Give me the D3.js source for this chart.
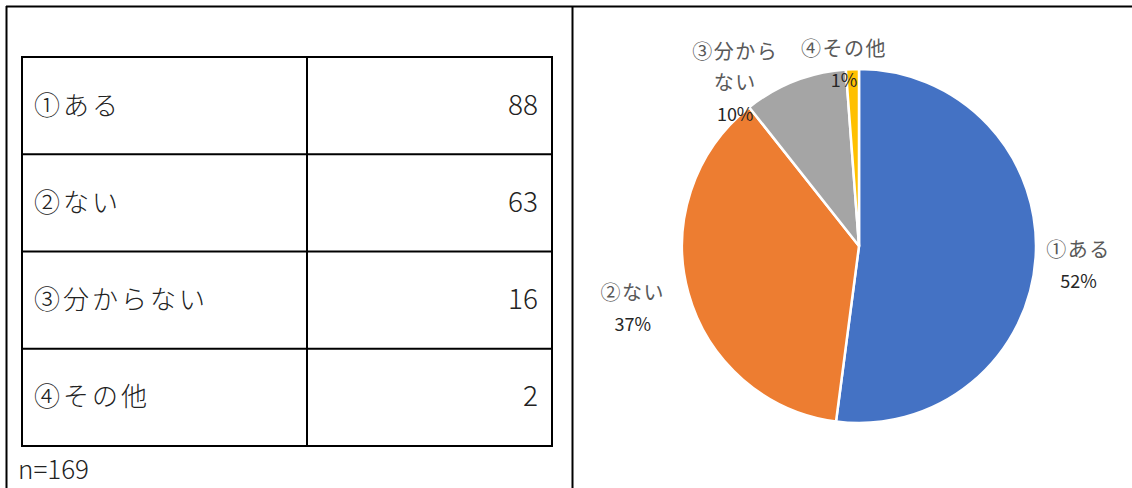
<!DOCTYPE html>
<html>
<head>
    <meta charset="utf-8">
    <title>回答の集計</title>
    <script src="https://d3js.org/d3.v7.min.js"></script>
    <style>
        body { margin: 0; background: #fff; }
        svg { display: block; }
    </style>
</head>
<body>
    <div id="chart"></div>
    <script>

        // data
        var categories = ["①ある", "②ない", "③分からない", "④その他"];
        var counts = [88, 63, 16, 2];
        var pieNames = [["①ある"], ["②ない"], ["③分から", "ない"], ["④その他"]];
        var pieLabels = ["52%", "37%", "10%", "1%"];
        var nLabel = "n=169";
        var colors = ["#4472C4", "#ED7D31", "#A5A5A5", "#FFC000"];

        var width = 1132, height = 488;
        var jp = "'Noto Sans CJK JP', 'Noto Sans', sans-serif";

        var svg = d3.select("#chart")
                    .append("svg")
                    .attr("width", width)
                    .attr("height", height);

        // outer frame: top, left and middle divider
        svg.append("line").attr("x1", 6).attr("x2", 1132).attr("y1", 6.5).attr("y2", 6.5)
            .attr("stroke", "#000").attr("stroke-width", 2);
        svg.append("line").attr("x1", 6.5).attr("x2", 6.5).attr("y1", 6).attr("y2", height)
            .attr("stroke", "#000").attr("stroke-width", 2);
        svg.append("line").attr("x1", 572.5).attr("x2", 572.5).attr("y1", 6).attr("y2", height)
            .attr("stroke", "#000").attr("stroke-width", 2);

        // ---- table ----
        var table = {left: 22, right: 552, top: 57, bottom: 446, mid: 307};
        var rowY = d3.scaleBand()
            .domain(categories)
            .range([table.top, table.bottom]);

        var tg = svg.append("g");
        tg.append("rect")
            .attr("x", table.left).attr("y", table.top)
            .attr("width", table.right - table.left)
            .attr("height", table.bottom - table.top)
            .attr("fill", "none").attr("stroke", "#000").attr("stroke-width", 2);
        tg.append("line")
            .attr("x1", table.mid).attr("x2", table.mid)
            .attr("y1", table.top).attr("y2", table.bottom)
            .attr("stroke", "#000").attr("stroke-width", 2);
        tg.selectAll(".rowline")
            .data(categories.slice(1))
            .join("line")
            .attr("x1", table.left).attr("x2", table.right)
            .attr("y1", function(d) { return rowY(d); })
            .attr("y2", function(d) { return rowY(d); })
            .attr("stroke", "#000").attr("stroke-width", 2);

        tg.selectAll(".cat")
            .data(categories)
            .join("text")
            .attr("x", table.left + 12)
            .attr("y", function(d) { return rowY(d) + rowY.bandwidth() / 2 + 9; })
            .style("font-family", jp)
            .style("font-size", "26px")
            .style("font-weight", 300)
            .style("letter-spacing", "3px")
            .attr("fill", "#222")
            .text(function(d) { return d; });

        tg.selectAll(".num")
            .data(counts)
            .join("text")
            .attr("x", table.right - 14)
            .attr("y", function(d, i) { return rowY(categories[i]) + rowY.bandwidth() / 2 + 9; })
            .attr("text-anchor", "end")
            .style("font-family", jp)
            .style("font-size", "28px")
            .style("font-weight", 300)
            .attr("fill", "#222")
            .text(function(d) { return d; });

        svg.append("text")
            .attr("x", 18)
            .attr("y", 479)
            .style("font-family", jp)
            .style("font-size", "26px")
            .style("font-weight", 300)
            .attr("fill", "#222")
            .text(nLabel);

        // ---- pie ----
        var cx = 859, cy = 246, radius = 177;
        var pie = d3.pie().sort(null).value(function(d) { return d; });
        var arcs = pie(counts);
        var arc = d3.arc().innerRadius(0).outerRadius(radius);

        var pg = svg.append("g")
            .attr("transform", "translate(" + cx + "," + cy + ")");

        pg.selectAll("path")
            .data(arcs)
            .join("path")
            .attr("d", arc)
            .attr("fill", function(d, i) { return colors[i]; })
            .attr("stroke", "#fff")
            .attr("stroke-width", 2.5)
            .attr("stroke-linejoin", "round");

        // labels sit just outside each slice, nudged like the original
        var nudge = [[3, 12], [-17, 12], [-45, 46], [-7, 42]];
        var lineGap = 31;

        var lg = pg.selectAll(".lbl")
            .data(arcs)
            .join("g")
            .attr("transform", function(d, i) {
                var mid = (d.startAngle + d.endAngle) / 2;
                var r = radius + 40;
                var x = r * Math.sin(mid) + nudge[i][0];
                var y = -r * Math.cos(mid) + nudge[i][1];
                return "translate(" + x + "," + y + ")";
            });

        lg.each(function(d, i) {
            var g = d3.select(this);
            var lines = pieNames[i].concat([pieLabels[i]]);
            var top = -(lines.length - 1) * lineGap / 2;
            lines.forEach(function(t, j) {
                var isPct = j === lines.length - 1;
                g.append("text")
                    .attr("x", 0)
                    .attr("y", top + j * lineGap)
                    .attr("text-anchor", "middle")
                    .style("font-family", jp)
                    .style("font-size", isPct ? "18px" : "20px")
                    .style("letter-spacing", isPct ? "0px" : "1.5px")
                    .attr("fill", isPct ? "#262626" : "#595959")
                    .text(t);
            });
        });

    </script>
</body>
</html>
